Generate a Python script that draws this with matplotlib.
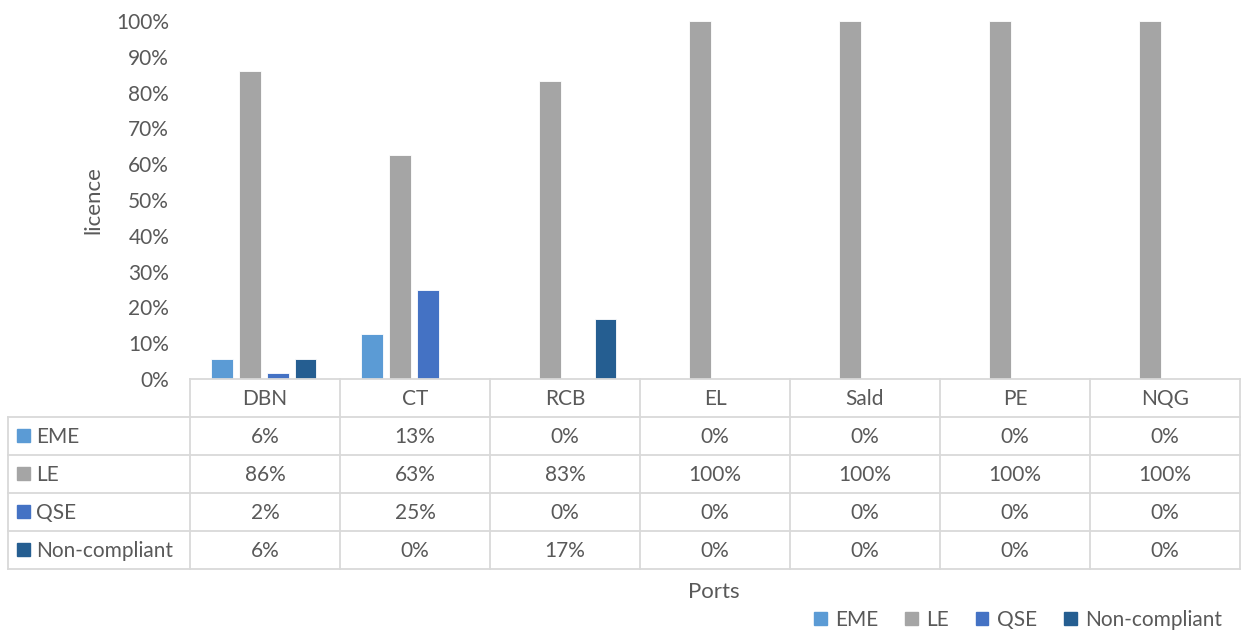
import numpy as np
import matplotlib.pyplot as plt
from matplotlib.patches import Patch

ports = ['DBN', 'CT', 'RCB', 'EL', 'Sald', 'PE', 'NQG']
series = ['EME', 'LE', 'QSE', 'Non-compliant']
eme = [5.6, 12.5, 0, 0, 0, 0, 0]
le = [86.1, 62.5, 83.3, 100, 100, 100, 100]
qse = [1.8, 25.0, 0, 0, 0, 0, 0]
noncomp = [5.6, 0, 16.7, 0, 0, 0, 0]
colors = ['#5B9BD5', '#A5A5A5', '#4472C4', '#255E91']

plt.rcParams['font.family'] = ['Lato', 'DejaVu Sans']
txt = '#595959'
grid = '#D9D9D9'
fs = 15

W, H = 1243, 632
fig = plt.figure(figsize=(W/100, H/100), dpi=100)
ax = fig.add_axes([190/W, 1-379/H, 1050/W, 358/H])

x = np.arange(len(ports))
offs = [-0.285, -0.1, 0.085, 0.27]
for vals, c, o, name in zip([eme, le, qse, noncomp], colors, offs, series):
    ax.bar(x+o, vals, width=0.145, color=c, edgecolor='white', linewidth=0.6, label=name)

ax.set_xlim(-0.5, len(ports)-0.5)
ax.set_ylim(0, 100)
ax.set_yticks(np.arange(0, 101, 10))
ax.set_yticklabels([f'{v}%' for v in range(0, 101, 10)], color=txt, fontsize=fs)
ax.tick_params(axis='y', length=0, pad=15)
ax.set_xticks([])
for s in ['top', 'right', 'left', 'bottom']:
    ax.spines[s].set_visible(False)
ax.set_ylabel('licence', color=txt, fontsize=16, labelpad=9)

# data table drawn under the axis
def fx(px):
    return px / W
def fy(py):
    return 1 - py / H

col_edges = [190 + 150*i for i in range(len(ports)+1)]
row_edges = [379, 417, 455, 493, 531, 569]
lw = 1.3
fig.add_artist(plt.Line2D([fx(190), fx(1240)], [fy(379), fy(379)], color=grid, lw=lw))
for r in row_edges[1:]:
    fig.add_artist(plt.Line2D([fx(8), fx(1240)], [fy(r), fy(r)], color=grid, lw=lw))
for ce in col_edges:
    fig.add_artist(plt.Line2D([fx(ce), fx(ce)], [fy(379), fy(569)], color=grid, lw=lw))
fig.add_artist(plt.Line2D([fx(8), fx(8)], [fy(417), fy(569)], color=grid, lw=lw))

for i, p in enumerate(ports):
    cx = (col_edges[i] + col_edges[i+1]) / 2
    fig.text(fx(cx), fy(399), p, ha='center', va='center', color=txt, fontsize=fs)

for j, (name, vals, c) in enumerate(zip(series, [eme, le, qse, noncomp], colors)):
    cy = (row_edges[j+1] + row_edges[j+2]) / 2
    fig.patches.append(plt.Rectangle((fx(17), fy(cy+6)), 13/W, 13/H, color=c,
                                     transform=fig.transFigure, figure=fig))
    fig.text(fx(36), fy(cy+1), name, ha='left', va='center', color=txt, fontsize=fs)
    for i, v in enumerate(vals):
        cx = (col_edges[i] + col_edges[i+1]) / 2
        fig.text(fx(cx), fy(cy+1), f'{int(v + 0.5)}%', ha='center', va='center',
                 color=txt, fontsize=fs)

fig.text(fx(714), fy(592), 'Ports', ha='center', va='center', color=txt, fontsize=16)

handles = [Patch(color=c, label=n) for c, n in zip(colors, series)]
fig.legend(handles=handles, loc='center', bbox_to_anchor=(fx(1018), fy(620)), ncol=4,
           frameon=False, fontsize=fs, handlelength=0.6, handleheight=0.6,
           handletextpad=0.4, columnspacing=1.3, labelcolor=txt)

fig.savefig('out.png', dpi=100)
